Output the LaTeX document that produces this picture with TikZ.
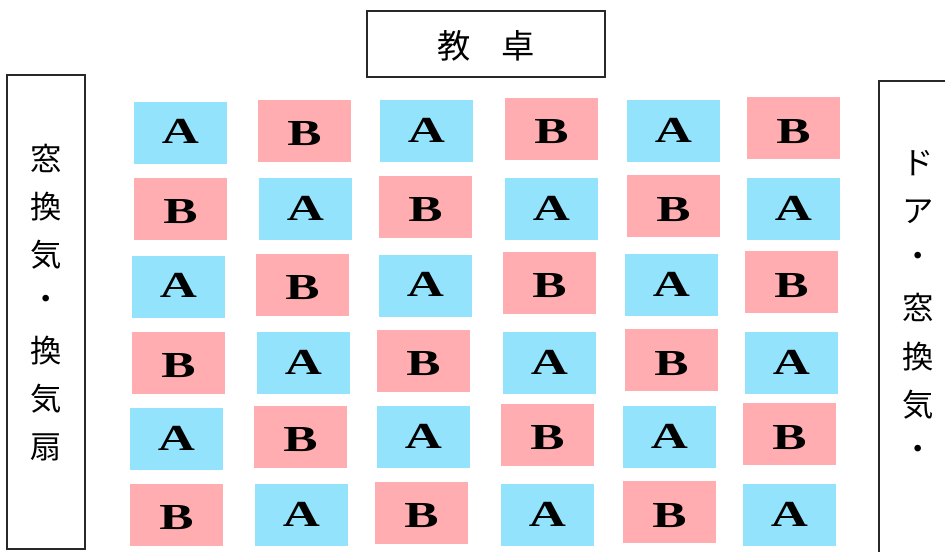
\documentclass[tikz,border=0pt]{standalone}
\usepackage{fontspec}
\usepackage{graphicx}
\newfontfamily\cjk{Noto Sans CJK JP}
\newfontfamily\seatfont{Liberation Serif}
\definecolor{seatblue}{RGB}{148,227,252}
\definecolor{seatpink}{RGB}{255,173,176}
\definecolor{framegray}{RGB}{40,40,40}
\tikzset{
  seatbox/.style={minimum width=69.75pt, minimum height=46.5pt, inner sep=0pt, outer sep=0pt,
    font=\seatfont\bfseries\fontsize{27.5pt}{30pt}\selectfont, text depth=0pt},
  seatA/.style={seatbox, fill=seatblue, text height=16.5pt},
  seatB/.style={seatbox, fill=seatpink, text height=23.2pt},
  frame/.style={draw=framegray, line width=1.1pt, inner sep=0pt},
  vtext/.style={font=\cjk\fontsize{23.5pt}{28pt}\selectfont, inner sep=0pt},
  desktext/.style={font=\cjk\fontsize{25pt}{30pt}\selectfont, inner sep=0pt}
}
\begin{document}
\begin{tikzpicture}[x=0.75pt, y=-0.75pt]
\useasboundingbox (0,0) rectangle (945,551);
\fill[white] (0,0) rectangle (945,551);

% teacher's desk
\node[frame, minimum width=178.5pt, minimum height=49.5pt] (desk) at (486,44) {};
\node[desktext] (desklabel) at (486,46) {教\hspace{23pt}卓};

% side frames
\node[frame, minimum width=58.5pt, minimum height=355.5pt] (leftwall) at (46,312) {};
\node[frame, minimum width=83.25pt, minimum height=389.25pt] (rightwall) at (934.5,340.5) {};

\foreach \c [count=\k] in {窓,換,気,・,換,気,扇}
  \node[vtext] (L\k) at (46,{158+48.2*(\k-1)}) {\c};
\foreach \c [count=\k] in {ド,ア,・,窓,換,気,・}
  \node[vtext] (R\k) at (918,{163+48.3*(\k-1)}) {\c};

% seats
\foreach \x/\y/\t [count=\i] in {
  180.5/132.5/A, 304.5/130.5/B, 426.5/131/A, 551.5/128.5/B, 673.5/131/A, 793.5/128/B,
  180.5/208.5/B, 305.5/209/A, 425.5/206.5/B, 551.5/209/A, 673.5/206/B, 793.5/209/A,
  178.5/286.5/A, 302.5/284.5/B, 425.5/285.5/A, 549.5/282.5/B, 671.5/285/A, 791.5/282/B,
  178.5/362.5/B, 303.5/363/A, 423.5/360.5/B, 549.5/363/A, 671.5/360/B, 791.5/363/A,
  176.5/439/A, 300.5/436.5/B, 423.5/437/A, 547.5/434.5/B, 669.5/437/A, 789.5/434/B,
  176.5/514.5/B, 301.5/515/A, 421.5/512.5/B, 547.5/515/A, 669.5/512/B, 789.5/515/A}
  \node[seat\t] (s\i) at (\x,\y) {\scalebox{1.4}[1]{\t}};
\end{tikzpicture}
\end{document}
